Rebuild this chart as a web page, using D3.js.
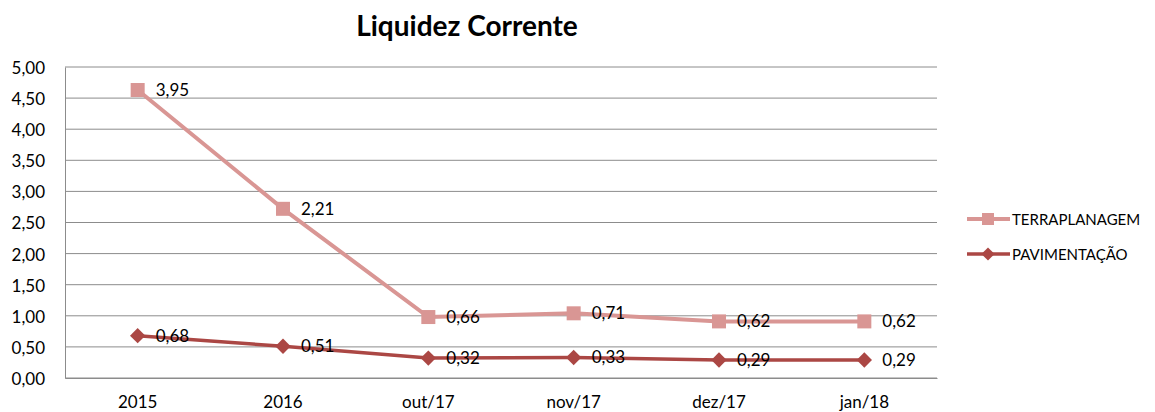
<!DOCTYPE html>
<html>
<head>
<meta charset="utf-8">
<script src="https://cdn.jsdelivr.net/npm/d3@7"></script>
<style>
  body { margin: 0; background: #fff; }
  svg { font-family: Lato, "Open Sans", sans-serif; }
</style>
</head>
<body>
<svg width="1155" height="412"></svg>
<script>
var categories = ["2015", "2016", "out/17", "nov/17", "dez/17", "jan/18"];
var terraplanagem = [3.95, 2.21, 0.66, 0.71, 0.62, 0.62];
var pavimentacao = [0.68, 0.51, 0.32, 0.33, 0.29, 0.29];
var yTicks = [0, 0.5, 1, 1.5, 2, 2.5, 3, 3.5, 4, 4.5, 5];

var svg = d3.select("svg"),
    margin = {left: 65, right: 218, top: 67, bottom: 34},
    width = +svg.attr("width") - margin.left - margin.right,
    height = +svg.attr("height") - margin.top - margin.bottom;

var fmt = function(v) { return d3.format(".2f")(v).replace(".", ","); };

var x = d3.scaleBand().domain(categories).range([0, width]);
var y = d3.scaleLinear().domain([0, 5]).range([height, 0]);

var g = svg.append("g").attr("transform", "translate(" + margin.left + "," + margin.top + ")");

// title
svg.append("text")
    .attr("x", 467).attr("y", 36)
    .attr("text-anchor", "middle")
    .attr("font-size", 28).attr("font-weight", "bold")
    .text("Liquidez Corrente");

// grid lines
g.append("g").selectAll("line")
    .data(yTicks)
    .enter().append("line")
    .attr("x1", 0).attr("x2", width)
    .attr("y1", function(d) { return y(d); })
    .attr("y2", function(d) { return y(d); })
    .attr("stroke", "#8c8c8c").attr("stroke-width", 1);

// y axis
var yAxis = g.append("g")
    .call(d3.axisLeft(y).tickValues(yTicks).tickFormat(fmt).tickSize(0).tickPadding(20));
yAxis.select(".domain").attr("stroke", "#8c8c8c");
yAxis.selectAll("text").attr("font-size", 17).attr("fill", "#000").attr("dy", "0.38em")
    .style("font-family", "Lato, 'Open Sans', sans-serif");

// x axis
var xAxis = g.append("g")
    .attr("transform", "translate(0," + height + ")")
    .call(d3.axisBottom(x).tickSize(0).tickPadding(18));
xAxis.select(".domain").attr("stroke", "#8c8c8c");
xAxis.selectAll("text").attr("font-size", 17).attr("fill", "#000")
    .style("font-family", "Lato, 'Open Sans', sans-serif");

// stacked series (terraplanagem drawn on top of pavimentacao)
var pavData = categories.map(function(c, i) { return {cat: c, value: pavimentacao[i], top: pavimentacao[i]}; });
var terraData = categories.map(function(c, i) { return {cat: c, value: terraplanagem[i], top: terraplanagem[i] + pavimentacao[i]}; });

var cx = function(d) { return x(d.cat) + x.bandwidth() / 2; };
var line = d3.line().x(cx).y(function(d) { return y(d.top); });

var terraColor = "#d99694", pavColor = "#ab4744";

g.append("path").datum(terraData)
    .attr("fill", "none").attr("stroke", terraColor).attr("stroke-width", 4)
    .attr("d", line);
g.append("path").datum(pavData)
    .attr("fill", "none").attr("stroke", pavColor).attr("stroke-width", 3.5)
    .attr("d", line);

g.append("g").selectAll("rect")
    .data(terraData)
    .enter().append("rect")
    .attr("x", function(d) { return cx(d) - 7; })
    .attr("y", function(d) { return y(d.top) - 7; })
    .attr("width", 14).attr("height", 14)
    .attr("fill", terraColor);

var diamond = d3.symbol().type(d3.symbolDiamond2).size(150);
g.append("g").selectAll("path")
    .data(pavData)
    .enter().append("path")
    .attr("transform", function(d) { return "translate(" + cx(d) + "," + y(d.top) + ")"; })
    .attr("d", diamond)
    .attr("fill", pavColor);

// data labels
var labels = g.append("g").attr("font-size", 17).attr("fill", "#000");
labels.selectAll(".lt")
    .data(terraData.concat(pavData))
    .enter().append("text")
    .attr("x", function(d) { return cx(d) + 18; })
    .attr("y", function(d) { return y(d.top) + 6; })
    .text(function(d) { return fmt(d.value); });

// legend
var legend = svg.append("g").attr("font-size", 15);
var legendItems = [
  {name: "TERRAPLANAGEM", color: terraColor, y: 219, shape: "square"},
  {name: "PAVIMENTAÇÃO", color: pavColor, y: 254, shape: "diamond"}
];
legendItems.forEach(function(it) {
  legend.append("line")
      .attr("x1", 967).attr("x2", 1010)
      .attr("y1", it.y).attr("y2", it.y)
      .attr("stroke", it.color).attr("stroke-width", it.shape === "square" ? 4 : 3.5);
  if (it.shape === "square") {
    legend.append("rect")
        .attr("x", 982).attr("y", it.y - 6).attr("width", 12).attr("height", 12)
        .attr("fill", it.color);
  } else {
    legend.append("path")
        .attr("transform", "translate(988," + it.y + ")")
        .attr("d", d3.symbol().type(d3.symbolDiamond2).size(110))
        .attr("fill", it.color);
  }
  legend.append("text")
      .attr("x", 1012).attr("y", it.y + 6)
      .text(it.name);
});
</script>
</body>
</html>
